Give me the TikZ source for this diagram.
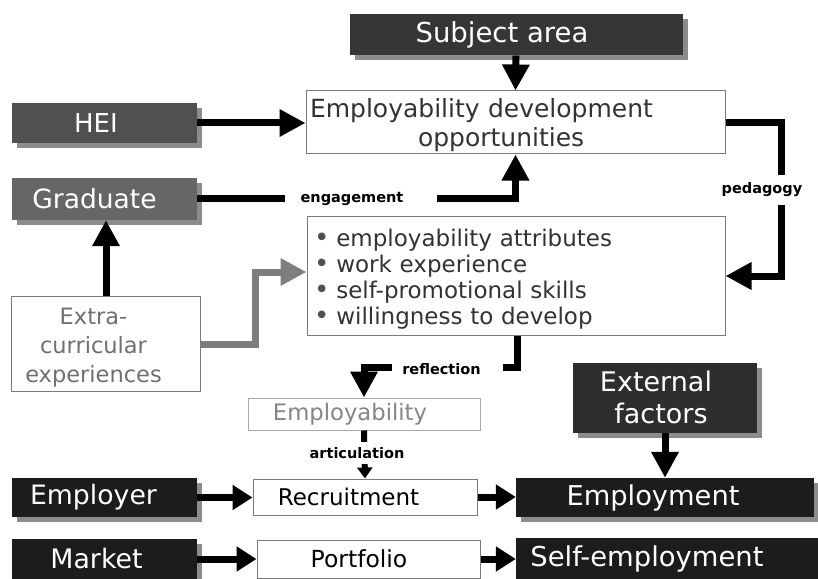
\documentclass[tikz,border=0pt]{standalone}
\usepackage{fontspec}
\setmainfont{DejaVu Sans}
\usetikzlibrary{arrows.meta,shadows}
\definecolor{dk}{HTML}{1C1C1C}
\definecolor{subjc}{HTML}{363636}
\definecolor{heic}{HTML}{505050}
\definecolor{gradc}{HTML}{666666}
\definecolor{extc}{HTML}{2E2E2E}
\definecolor{shad}{HTML}{8C8C8C}
\definecolor{bord}{HTML}{7A7A7A}
\definecolor{lbord}{HTML}{A8A8A8}
\definecolor{gtext}{HTML}{707070}
\definecolor{ltext}{HTML}{858585}
\definecolor{btext}{HTML}{333333}
\definecolor{bulc}{HTML}{505050}
\definecolor{garrow}{HTML}{7E7E7E}
\newcommand{\fsz}[2]{\fontsize{#1bp}{#2bp}\selectfont}
\newcommand{\bul}{{\color{bulc}\fsz{26}{20}•}\hspace{7bp}}
\newcommand{\sh}[1]{\hspace*{#1bp}}
\tikzset{
  darkbox/.style={fill=#1, text=white, inner sep=0pt, align=center,
    general shadow={fill=shad, shadow xshift=5bp, shadow yshift=-5bp}},
  whitebox/.style={draw=bord, line width=1bp, fill=white, inner sep=0pt, align=center},
  conn/.style={line width=7bp, line join=miter, -{Triangle[length=26bp,width=26bp]}},
  shortconn/.style={line width=7bp, -{Triangle[length=20bp,width=24bp]}},
  lbl/.style={fill=white, inner sep=0pt, text=black, font=\fsz{14.5}{16}\bfseries},
}
\begin{document}
\begin{tikzpicture}[x=1bp,y=-1bp]
\useasboundingbox (0,0) rectangle (818,579);
% nodes
\node[darkbox=subjc, minimum width=333bp, minimum height=41bp, font=\fsz{27.5}{30}] (subj) at (516,35) {Subject area\sh{28}};
\node[whitebox, minimum width=419bp, minimum height=63bp, text=btext, font=\fsz{25}{29}, align=left, text width=411bp] (opp) at (515.5,122.5) {\rule{0pt}{25bp}Employability development\\\sh{108}opportunities};
\node[darkbox=heic, minimum width=185bp, minimum height=40bp, font=\fsz{26}{28}] (hei) at (104.5,123) {HEI\sh{17}};
\node[darkbox=gradc, minimum width=185bp, minimum height=42bp, font=\fsz{26.5}{28}] (grad) at (104.5,199) {Graduate\sh{20}};
\node[whitebox, minimum width=418bp, minimum height=118bp, text=btext, font=\fsz{23}{25.8}, align=left, text width=404bp] (bul) at (516,276)
  {\rule{0pt}{24bp}\bul employability attributes\\
   \bul work experience\\
   \bul self-promotional skills\\
   \bul willingness to develop};
\node[whitebox, minimum width=188bp, minimum height=92bp, text=gtext, font=\fsz{22.5}{29}] (extra) at (106,344)
  {\begin{tabular}{@{}c@{}}\rule{0pt}{28bp}Extra-\\curricular\\experiences\end{tabular}\sh{25}};
\node[whitebox, draw=lbord, minimum width=232bp, minimum height=32bp, text=ltext, font=\fsz{22.7}{25}] (emplb) at (364,414) {Employability\sh{28}};
\node[darkbox=extc, minimum width=184bp, minimum height=69bp, font=\fsz{27}{32}] (ext) at (665,398)
  {\begin{tabular}{@{}c@{}}\rule{0pt}{28bp}External\sh{10}\\factors\end{tabular}\sh{8}};
\node[darkbox=dk, minimum width=185bp, minimum height=39bp, font=\fsz{26.7}{28}] (employer) at (104.5,497.5) {Employer\sh{22}};
\node[whitebox, minimum width=224bp, minimum height=36bp, text=black, font=\fsz{23}{25}] (recr) at (365,497) {Recruitment\sh{33}};
\node[darkbox=dk, minimum width=298bp, minimum height=39bp, font=\fsz{27.3}{29}] (employment) at (665,497.5) {Employment\sh{24}};
\node[darkbox=dk, minimum width=185bp, minimum height=40bp, font=\fsz{26.8}{28}] (market) at (104.5,559) {Market\sh{16}};
\node[whitebox, minimum width=223bp, minimum height=38bp, text=black, font=\fsz{23.5}{25}] (portf) at (368.5,559) {Portfolio\sh{19}};
\node[darkbox=dk, minimum width=302bp, minimum height=42bp, font=\fsz{27.4}{29}] (selfemp) at (667,559) {Self-employment\sh{40}};
% helper coordinates
\coordinate (pedx) at (781,0);
\coordinate (gx) at (255,272);
\coordinate (rf) at (517,367);
% connectors
\draw[conn] (subj.south) -- (opp.north);
\draw[conn] (hei.east) -- (opp.west |- hei.east);
\draw[conn] (grad.east) -| (opp.south);
\draw[conn] (opp.east) -| (bul.east -| pedx) -- (bul.east);
\draw[conn, color=garrow] (extra.east) -| (gx) -- (gx -| bul.west);
\draw[conn] (extra.north) -- (extra.north |- grad.south);
\draw[conn] (bul.south -| rf) |- (emplb.north |- rf) -- (emplb.north);
\draw[line width=6bp, -{Triangle[length=11bp,width=15bp]}] (emplb.south) -- (recr.north);
\draw[shortconn] (employer.east) -- (recr.west |- employer.east);
\draw[shortconn] (recr.east) -- (employment.west |- recr.east);
\draw[shortconn] (market.east) -- (portf.west |- market.east);
\draw[shortconn] (portf.east) -- (selfemp.west |- portf.east);
\draw[conn] (ext.south) -- (employment.north -| ext.south);
% labels
\node[lbl, minimum width=152bp, minimum height=14bp] (lengage) at (361,199) {engagement\sh{18}};
\node[lbl, minimum height=30bp] (lpeda) at (762,190) {pedagogy};
\node[lbl, minimum width=111bp, minimum height=14bp] (lrefl) at (447.5,369) {reflection\sh{12}};
\node[lbl, minimum height=22bp] (lartic) at (365,453) {articulation\sh{16}};
\end{tikzpicture}
\end{document}
